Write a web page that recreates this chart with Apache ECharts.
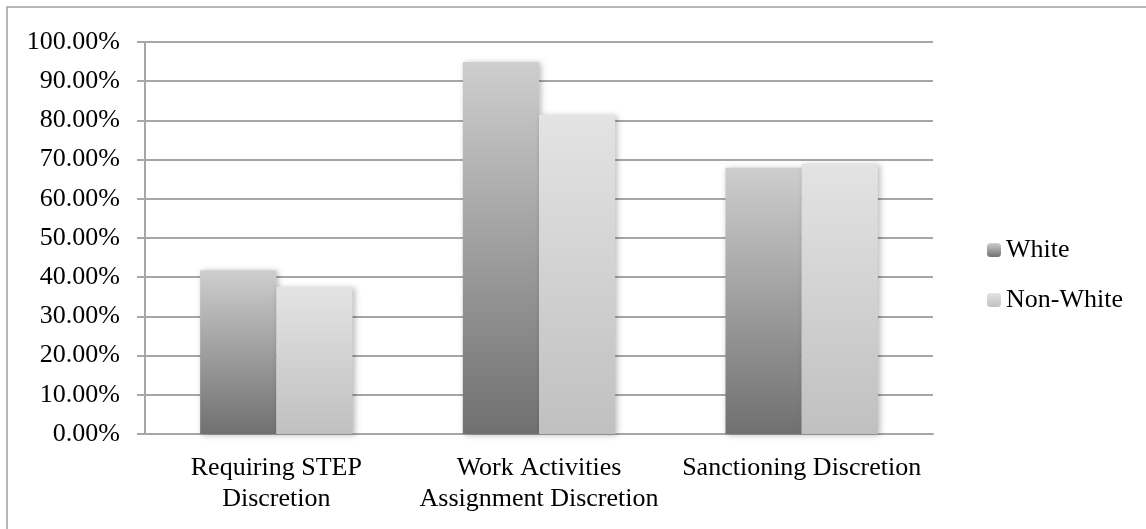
<!DOCTYPE html>
<html>
<head>
<meta charset="utf-8">
<script src="https://cdn.jsdelivr.net/npm/echarts@6/dist/echarts.min.js"></script>
<style>
  html, body { margin: 0; padding: 0; background: #ffffff; }
  #chart { width: 1146px; height: 529px; }
</style>
</head>
<body>
<div id="chart"></div>
<script>
// Share of respondents reporting each kind of discretion, by group
const categories = [
  'Requiring STEP\nDiscretion',
  'Work Activities\nAssignment Discretion',
  'Sanctioning Discretion'
];
const whiteValues = [0.418, 0.949, 0.679];
const nonWhiteValues = [0.375, 0.814, 0.689];
const seriesNames = ['White', 'Non-White'];

const FONT = '"Liberation Serif", "Times New Roman", serif';
const GRID_COLOR = '#a6a6a6';

function vGradient(top, bottom) {
  return new echarts.graphic.LinearGradient(0, 0, 0, 1, [
    { offset: 0, color: top },
    { offset: 1, color: bottom }
  ]);
}

const barShadow = {
  shadowColor: 'rgba(0,0,0,0.28)',
  shadowBlur: 6,
  shadowOffsetX: 2,
  shadowOffsetY: 1
};

const chart = echarts.init(document.getElementById('chart'), null, { renderer: 'canvas' });

chart.setOption({
  backgroundColor: '#ffffff',
  animation: false,
  graphic: [{
    type: 'rect',
    silent: true,
    shape: { x: 7, y: 7, width: 1160, height: 540 },
    style: { fill: 'none', stroke: '#a0a0a0', lineWidth: 1.5 }
  }],
  grid: { left: 145, right: 213, top: 42, bottom: 95, containLabel: false },
  legend: {
    orient: 'vertical',
    left: 982,
    top: 232,
    itemWidth: 14,
    itemHeight: 14,
    itemGap: 24,
    data: seriesNames,
    textStyle: { fontFamily: FONT, fontSize: 26, color: '#000', lineHeight: 26 }
  },
  xAxis: {
    type: 'category',
    data: categories,
    axisLine: { lineStyle: { color: GRID_COLOR, width: 2 } },
    axisTick: { length: 8, lineStyle: { color: GRID_COLOR, width: 2 } },
    axisLabel: {
      interval: 0,
      margin: 19,
      fontFamily: FONT,
      fontSize: 26,
      lineHeight: 31,
      color: '#000'
    }
  },
  yAxis: {
    type: 'value',
    min: 0,
    max: 1,
    interval: 0.1,
    axisLine: { show: true, lineStyle: { color: GRID_COLOR, width: 2 } },
    axisTick: { show: true, length: 8, lineStyle: { color: GRID_COLOR, width: 2 } },
    splitLine: { lineStyle: { color: GRID_COLOR, width: 2 } },
    axisLabel: {
      margin: 25,
      fontFamily: FONT,
      fontSize: 26,
      color: '#000',
      formatter: v => (v * 100).toFixed(2) + '%'
    }
  },
  series: [
    {
      name: seriesNames[0],
      type: 'bar',
      data: whiteValues,
      barGap: '0%',
      barCategoryGap: '42%',
      itemStyle: Object.assign({ color: vGradient('#cecece', '#707070') }, barShadow)
    },
    {
      name: seriesNames[1],
      type: 'bar',
      data: nonWhiteValues,
      barGap: '0%',
      barCategoryGap: '42%',
      itemStyle: Object.assign({ color: vGradient('#e3e3e3', '#c0c0c0') }, barShadow)
    }
  ]
});
</script>
</body>
</html>
